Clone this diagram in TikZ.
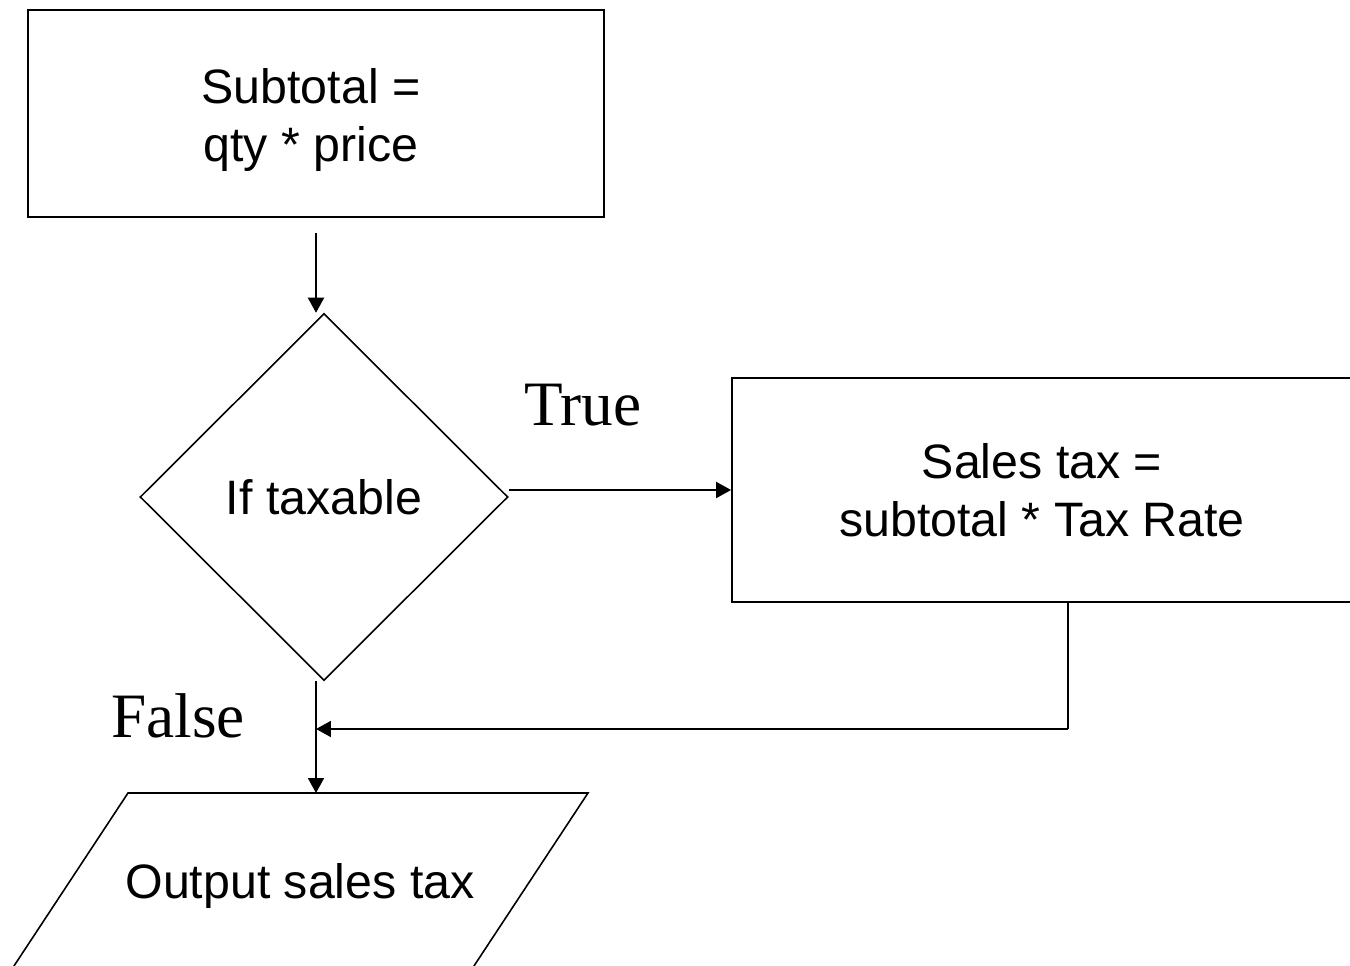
\documentclass[tikz,border=0pt]{standalone}
\usepackage{fontspec}
\setmainfont{Liberation Serif}
\newfontfamily\arialf{Liberation Sans}
\usetikzlibrary{shapes.geometric,arrows.meta}
\begin{document}
\begin{tikzpicture}[x=0.02cm,y=-0.02cm,
  boxstyle/.style={draw, line width=1.1pt, inner sep=0pt, align=center,
    font=\arialf\fontsize{27.5}{33}\selectfont},
  txt/.style={inner sep=0pt, align=center, font=\arialf\fontsize{27.5}{33}\selectfont},
  decision/.style={diamond, draw, line width=0.9pt, inner sep=0pt, align=center,
    font=\arialf\fontsize{27.5}{33}\selectfont},
  lbl/.style={font=\fontsize{36}{40}\selectfont, inner sep=0pt},
  arr/.style={line width=1.1pt, -{Triangle[length=0.3cm,width=0.32cm]}},
  conn/.style={line width=1.1pt}]
\useasboundingbox (0,0) rectangle (1350,966);
\node[boxstyle, minimum width=11.52cm, minimum height=4.14cm] (r1) at (316,113.5) {};
\node[txt] (r1t) at (311,120) {Subtotal =\\qty * price};
\node[decision, minimum width=7.36cm, minimum height=7.34cm] (d) at (324,497) {If taxable};
\node[boxstyle, minimum width=12.4cm, minimum height=4.48cm] (r2) at (1042,490) {Sales tax =\\subtotal * Tax Rate};
\coordinate (pa) at (128,793);
\coordinate (pb) at (588,793);
\coordinate (pc) at (470,972);
\coordinate (pd) at (10,972);
\coordinate (ptop) at (316,793);
\draw[line width=0.9pt] (pd) -- (pa) -- (pb) -- (pc);
\node[txt] (out) at (300,886) {Output sales tax};
\node[lbl] (t) at (583,405) {True};
\node[lbl] (f) at (178,716) {False};
\coordinate (s1) at (316,233);
\coordinate (de) at ([yshift=0.14cm]d.east);
\draw[arr] (s1) -- (s1 |- d.north);
\draw[arr] (de) -- (de -| r2.west);
\coordinate (j) at (1068,729);
\draw[conn] (j |- r2.south) -- (j);
\draw[arr] (j) -- (s1 |- j);
\draw[arr] (s1 |- d.south) -- (ptop);
\end{tikzpicture}
\end{document}
